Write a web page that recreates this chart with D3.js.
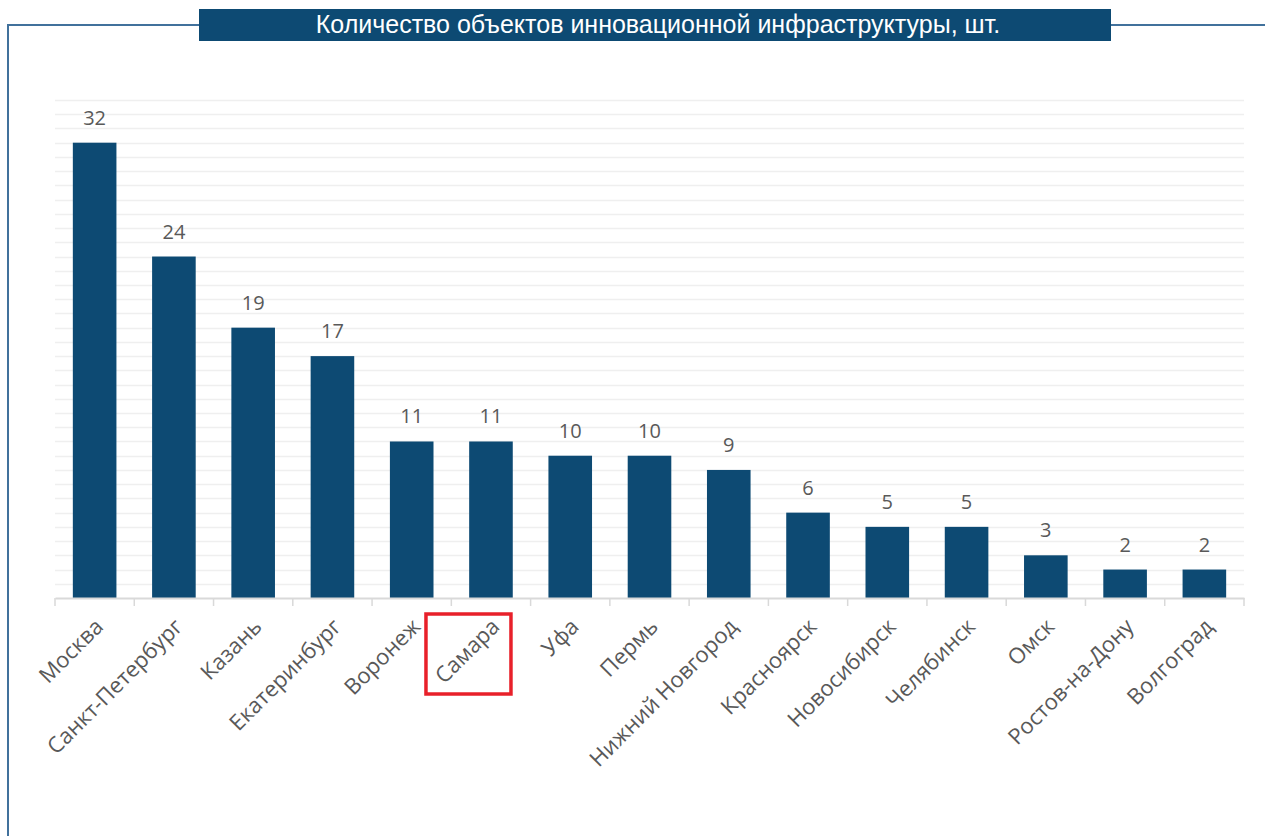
<!DOCTYPE html>
<html lang="ru">
<head>
	<meta charset="utf-8">
	<title>Количество объектов инновационной инфраструктуры</title>
	<script src="https://d3js.org/d3.v7.min.js"></script>
	<style>
		body { margin: 0; background: #fff; }
	</style>
</head>
<body>
	<script>
		var cities = ["Москва", "Санкт-Петербург", "Казань", "Екатеринбург", "Воронеж", "Самара", "Уфа",
			"Пермь", "Нижний Новгород", "Красноярск", "Новосибирск", "Челябинск", "Омск", "Ростов-на-Дону", "Волгоград"];
		var counts = [32, 24, 19, 17, 11, 11, 10, 10, 9, 6, 5, 5, 3, 2, 2];
		var gridValues = d3.range(0, 36); // линии сетки через 1
		var highlighted = "Самара";

		var w = 1265;
		var h = 836;
		var barColor = "#0d4a73";

		var svg = d3.select("body")
			.append("svg")
			.attr("width", w)
			.attr("height", h);

		// рамка
		svg.append("path")
			.attr("d", "M199,25 H8 V836 M1111,25 H1265")
			.attr("fill", "none")
			.attr("stroke", "#41719c")
			.attr("stroke-width", 2);

		// заголовок
		svg.append("rect")
			.attr("x", 199)
			.attr("y", 9)
			.attr("width", 912)
			.attr("height", 32)
			.attr("fill", barColor);

		svg.append("text")
			.attr("x", 658)
			.attr("y", 33)
			.attr("text-anchor", "middle")
			.attr("fill", "#fff")
			.style("font-family", "'Liberation Sans', Arial, sans-serif")
			.style("font-size", "25px")
			.text("Количество объектов инновационной инфраструктуры, шт.");

		var x = d3.scaleBand()
			.domain(cities)
			.range([55, 1244])
			.paddingInner(0.45)
			.paddingOuter(0.225);

		var y = d3.scaleLinear()
			.domain([0, 35])
			.range([598, 100]);

		// сетка
		svg.append("g")
			.selectAll("line")
			.data(gridValues.slice(1))
			.enter()
			.append("line")
			.attr("x1", 55)
			.attr("x2", 1244)
			.attr("y1", function(d) { return Math.round(y(d)) + 0.5; })
			.attr("y2", function(d) { return Math.round(y(d)) + 0.5; })
			.attr("stroke", "#efefef")
			.attr("stroke-width", 1.5);

		// столбцы
		svg.selectAll(".bar")
			.data(counts)
			.enter()
			.append("rect")
			.attr("class", "bar")
			.attr("x", function(d, i) { return x(cities[i]); })
			.attr("y", function(d) { return y(d); })
			.attr("width", x.bandwidth())
			.attr("height", function(d) { return y(0) - y(d); })
			.attr("fill", barColor);

		// подписи значений
		svg.selectAll(".val")
			.data(counts)
			.enter()
			.append("text")
			.attr("class", "val")
			.attr("x", function(d, i) { return x(cities[i]) + x.bandwidth() / 2; })
			.attr("y", function(d) { return y(d) - 18; })
			.attr("text-anchor", "middle")
			.attr("fill", "#595959")
			.style("font-family", "'Open Sans', sans-serif")
			.style("font-size", "20px")
			.text(function(d) { return d; });

		// ось X
		var axis = svg.append("g")
			.attr("transform", "translate(0," + 598 + ")")
			.call(d3.axisBottom(x).tickSize(0).tickFormat(""));
		axis.select(".domain").attr("stroke", "#d9d9d9").attr("stroke-width", 2);

		var step = x.step();
		svg.append("g")
			.selectAll("line")
			.data(d3.range(cities.length + 1))
			.enter()
			.append("line")
			.attr("x1", function(d) { return 55 + d * step; })
			.attr("x2", function(d) { return 55 + d * step; })
			.attr("y1", 598)
			.attr("y2", 606)
			.attr("stroke", "#d9d9d9")
			.attr("stroke-width", 1.5);

		// подписи категорий
		svg.selectAll(".cat")
			.data(cities)
			.enter()
			.append("text")
			.attr("class", "cat")
			.attr("transform", function(d) {
				return "translate(" + (x(d) + x.bandwidth() / 2 + 10) + "," + 628 + ") rotate(-45)";
			})
			.attr("text-anchor", "end")
			.attr("fill", "#595959")
			.style("font-family", "'Open Sans', sans-serif")
			.style("font-size", "22px")
			.text(function(d) { return d; });

		// выделение Самары
		svg.append("rect")
			.attr("x", x(highlighted) + x.bandwidth() / 2 - 65)
			.attr("y", 614)
			.attr("width", 85)
			.attr("height", 80)
			.attr("fill", "none")
			.attr("stroke", "#e8202a")
			.attr("stroke-width", 3.5);
	</script>
</body>
</html>
